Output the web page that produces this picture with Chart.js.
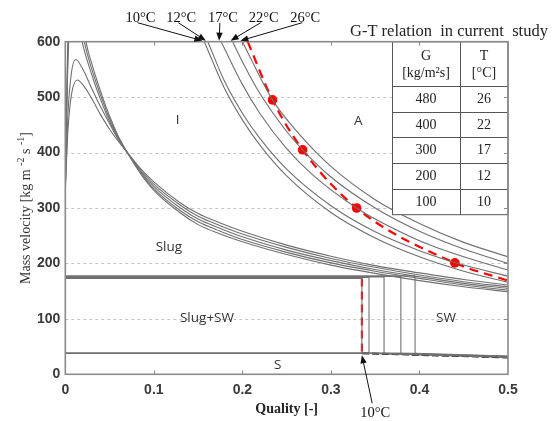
<!DOCTYPE html>
<html><head><meta charset="utf-8">
<script src="https://cdn.jsdelivr.net/npm/chart.js@4.4.1/dist/chart.umd.min.js"></script>
<style>html,body{margin:0;padding:0;background:#fff}#wrap{width:552px;height:421px;position:relative}</style>
</head><body><div id="wrap"><canvas id="c"></canvas></div>
<script>
// ---------- axis ticks ----------
const xTicks = [0, 0.1, 0.2, 0.3, 0.4, 0.5];
const yTicks = [0, 100, 200, 300, 400, 500, 600];

// ---------- annular boundary curves (I/A), one per temperature ----------
const annTemps = [10, 12, 17, 22, 26];
const annQ10 = [0.157, 0.18, 0.2, 0.22, 0.25, 0.3, 0.35, 0.4, 0.45, 0.5];
const annG10 = [600, 515, 459, 413, 358, 292, 246, 212, 186, 166];
const annQ12 = [0.161, 0.18, 0.2, 0.22, 0.25, 0.3, 0.35, 0.4, 0.45, 0.5];
const annG12 = [600, 528, 471, 425, 370, 304, 257, 223, 197, 177];
const annQ17 = [0.176, 0.2, 0.22, 0.25, 0.28, 0.329, 0.35, 0.4, 0.45, 0.5];
const annG17 = [600, 523, 470, 407, 359, 300, 280, 241, 212, 188];
const annQ22 = [0.189, 0.2, 0.22, 0.25, 0.268, 0.3, 0.35, 0.4, 0.45, 0.5];
const annG22 = [600, 564, 506, 438, 405, 356, 300, 258, 226, 200];
const annQ26 = [0.2, 0.234, 0.26, 0.3, 0.35, 0.4, 0.45, 0.5];
const annG26 = [600, 495, 441, 375, 315, 272, 238, 212];

// ---------- current study G-T curve (red dashed) ----------
const redQ = [0.206, 0.234, 0.268, 0.329, 0.44, 0.5];
const redG = [600, 495, 405, 300, 201, 169];
const dotQ = [0.234, 0.268, 0.329, 0.44];
const dotG = [495, 405, 300, 201];

// ---------- slug / intermittent boundary curves ----------
const siQA = [0, 0.003, 0.007, 0.0135, 0.02, 0.03, 0.04, 0.05, 0.06, 0.07, 0.085, 0.1, 0.13, 0.15, 0.175, 0.2, 0.25, 0.3, 0.35, 0.4, 0.45, 0.5];
const siGA = [330, 440, 505, 531, 522, 497, 468, 442, 420, 400, 371, 347, 309, 290, 273, 258, 233, 213, 196, 183, 171, 161];
const siQB = [0, 0.003, 0.007, 0.0117, 0.02, 0.03, 0.04, 0.05, 0.06, 0.07, 0.085, 0.1, 0.13, 0.15, 0.175, 0.2, 0.25, 0.3, 0.35, 0.4, 0.45, 0.5];
const siGB = [330, 470, 545, 568, 550, 515, 482, 452, 423, 400, 369, 343, 305, 285, 268, 253, 229, 209, 193, 179, 167, 158];
const siQC = [0, 0.002, 0.005, 0.01, 0.019, 0.03, 0.04, 0.05, 0.06, 0.07, 0.085, 0.1, 0.13, 0.15, 0.175, 0.2, 0.25, 0.3, 0.35, 0.4, 0.45, 0.5];
const siGC = [330, 500, 640, 680, 600, 540, 495, 456, 425, 400, 366, 339, 300, 280, 263, 248, 224, 205, 189, 176, 164, 155];
const siQD = [0, 0.002, 0.005, 0.011, 0.0215, 0.03, 0.04, 0.05, 0.06, 0.07, 0.085, 0.1, 0.13, 0.15, 0.175, 0.2, 0.25, 0.3, 0.35, 0.4, 0.45, 0.5];
const siGD = [330, 520, 660, 700, 600, 550, 503, 461, 427, 400, 364, 335, 295, 275, 258, 243, 220, 201, 186, 173, 161, 152];
const siQE = [0, 0.002, 0.005, 0.012, 0.0233, 0.03, 0.04, 0.05, 0.06, 0.07, 0.085, 0.1, 0.13, 0.15, 0.175, 0.2, 0.25, 0.3, 0.35, 0.4, 0.45, 0.5];
const siGE = [330, 540, 680, 720, 600, 560, 510, 466, 429, 400, 362, 332, 291, 270, 253, 239, 216, 197, 182, 169, 158, 149];

// ---------- slug/SW, S boundaries per temperature ----------
const swQ = [0.335, 0.343, 0.36, 0.379, 0.395];      // vertical SW boundary quality
const slugSwG = [173, 174.5, 175.5, 176.5, 177.5];   // horizontal slug / slug+SW boundary
const sG = [38, 38, 38, 38, 38];                     // stratified boundary
const sEndG = [30.5, 31, 32, 32.5, 33];              // S boundary at quality 0.5
const sEndQ = 0.5;

// ---------- table ----------
const tableG = [480, 400, 300, 200, 100];
const tableT = [26, 22, 17, 12, 10];

// ---------- region labels ----------
const regionText = ['I', 'A', 'Slug', 'Slug+SW', 'SW', 'S'];
const regionQ = [0.127, 0.331, 0.117, 0.160, 0.430, 0.240];
const regionG = [459, 457, 229, 101, 101, 17];

// ---------- annotation label positions (quality) ----------
const topLabelQ = [0.085, 0.131, 0.178, 0.224, 0.271];
const bottomLabelQ = 0.35;

const GRAY = '#707070';
const pts = (qs, gs) => qs.map((q, i) => ({x: q, y: gs[i]}));
const curve = (qs, gs, extra) => Object.assign({
  data: pts(qs, gs), showLine: true, pointRadius: 0, borderColor: GRAY, borderWidth: 1.1,
  cubicInterpolationMode: 'monotone', fill: false
}, extra || {});
const straight = (qs, gs, extra) => Object.assign({
  data: pts(qs, gs), showLine: true, pointRadius: 0, borderColor: GRAY, borderWidth: 1.1,
  tension: 0, fill: false
}, extra || {});

const datasets = [];
[[siQA, siGA], [siQB, siGB], [siQC, siGC], [siQD, siGD], [siQE, siGE]].forEach(([q, g]) => datasets.push(curve(q, g)));
const annSets = [[annQ10, annG10], [annQ12, annG12], [annQ17, annG17], [annQ22, annG22], [annQ26, annG26]];
annSets.forEach(([q, g]) => datasets.push(curve(q, g)));
swQ.forEach((xv, i) => {
  datasets.push(straight([0, xv], [slugSwG[i], slugSwG[i]]));
  datasets.push(straight([xv, xv], [slugSwG[i], sG[i]]));
  datasets.push(straight([0, xv, sEndQ], [sG[i], sG[i], sEndG[i]]));
});
datasets.push(straight([swQ[0], sEndQ], [sG[0], sEndG[0]], {borderColor: '#000', borderWidth: 2, borderDash: [7, 3]}));
datasets.push(straight([swQ[0], swQ[0]], [slugSwG[0], sG[0]], {borderColor: '#ff0000', borderWidth: 2.2, borderDash: [8, 5]}));
datasets.push(curve(redQ, redG, {borderColor: '#ff0000', borderWidth: 2.2, borderDash: [9, 6]}));
datasets.push({data: pts(dotQ, dotG), showLine: false, pointRadius: 4.8, pointBackgroundColor: '#ff0000', pointBorderColor: '#ff0000', pointBorderWidth: 0});

function arrow(ctx, x1, y1, x2, y2) {
  const a = Math.atan2(y2 - y1, x2 - x1), L = 8, W = 3.2;
  ctx.beginPath(); ctx.moveTo(x1, y1); ctx.lineTo(x2 - Math.cos(a) * L * 0.8, y2 - Math.sin(a) * L * 0.8); ctx.stroke();
  ctx.beginPath(); ctx.moveTo(x2, y2);
  ctx.lineTo(x2 - Math.cos(a) * L - Math.sin(a) * W, y2 - Math.sin(a) * L + Math.cos(a) * W);
  ctx.lineTo(x2 - Math.cos(a) * L + Math.sin(a) * W, y2 - Math.sin(a) * L - Math.cos(a) * W);
  ctx.closePath(); ctx.fill();
}

const deco = {
  id: 'deco',
  beforeDatasetsDraw(chart) {
    const {ctx, chartArea: ca, scales: {x, y}} = chart;
    ctx.save();
    ctx.strokeStyle = '#c4c4c4'; ctx.lineWidth = 1; ctx.setLineDash([3, 3]);
    yTicks.forEach(v => {
      if (v === 0 || v === 600) return;
      const py = Math.round(y.getPixelForValue(v)) + 0.5;
      ctx.beginPath(); ctx.moveTo(ca.left, py); ctx.lineTo(ca.right, py); ctx.stroke();
    });
    ctx.restore();
  },
  afterDatasetsDraw(chart) {
    const {ctx, chartArea: ca, scales: {x, y}} = chart;
    ctx.save();
    // table
    const tL = ca.right - 116, tR = ca.right, cM = tL + 68, tT = ca.top;
    const rows = [tT, tT + 44, tT + 69.8, tT + 95.6, tT + 121.4, tT + 147.2, tT + 173];
    ctx.fillStyle = '#fff'; ctx.fillRect(tL, tT, tR - tL, rows[6] - tT);
    ctx.strokeStyle = '#555'; ctx.lineWidth = 1;
    ctx.strokeRect(tL + 0.5, tT, tR - tL - 0.5, rows[6] - tT);
    ctx.beginPath(); ctx.moveTo(cM + 0.5, tT); ctx.lineTo(cM + 0.5, rows[6]); ctx.stroke();
    rows.slice(1, 6).forEach(r => { ctx.beginPath(); ctx.moveTo(tL, Math.round(r) + 0.5); ctx.lineTo(tR, Math.round(r) + 0.5); ctx.stroke(); });
    ctx.fillStyle = '#222'; ctx.textAlign = 'center'; ctx.textBaseline = 'middle';
    ctx.font = '14px "Liberation Serif", serif';
    const c1 = (tL + cM) / 2, c2 = (cM + tR) / 2;
    ctx.fillText('G', c1, tT + 15); ctx.fillText('T', c2, tT + 15);
    ctx.fillText('[kg/m\u00B2s]', c1, tT + 32); ctx.fillText('[\u00B0C]', c2, tT + 32);
    tableG.forEach((g, i) => {
      const cy = (rows[i + 1] + rows[i + 2]) / 2 + 0.5;
      ctx.fillText(String(g), c1, cy); ctx.fillText(String(tableT[i]), c2, cy);
    });
    ctx.textAlign = 'left'; ctx.textBaseline = 'alphabetic';
    ctx.font = '16.5px "Liberation Serif", serif';
    ctx.fillText('G-T relation  in current  study', tL - 42, ca.top - 6);

    // border
    ctx.strokeStyle = '#8a8a8a'; ctx.lineWidth = 1.6;
    ctx.strokeRect(ca.left, ca.top, ca.right - ca.left, ca.bottom - ca.top);
    // inward ticks
    ctx.lineWidth = 1; ctx.strokeStyle = '#8a8a8a';
    xTicks.forEach(v => {
      if (v === 0 || v === 0.5) return;
      const px = Math.round(x.getPixelForValue(v)) + 0.5;
      ctx.beginPath(); ctx.moveTo(px, ca.bottom); ctx.lineTo(px, ca.bottom - 4); ctx.stroke();
      ctx.beginPath(); ctx.moveTo(px, ca.top); ctx.lineTo(px, ca.top + 4); ctx.stroke();
    });
    yTicks.forEach(v => {
      if (v === 0 || v === 600) return;
      const py = Math.round(y.getPixelForValue(v)) + 0.5;
      ctx.beginPath(); ctx.moveTo(ca.right, py); ctx.lineTo(ca.right - 4, py); ctx.stroke();
    });

    // region labels
    ctx.fillStyle = '#333'; ctx.font = '13.5px "Open Sans", sans-serif';
    ctx.textAlign = 'center'; ctx.textBaseline = 'middle';
    regionText.forEach((t, i) => ctx.fillText(t, x.getPixelForValue(regionQ[i]), y.getPixelForValue(regionG[i])));

    // top temperature labels + arrows
    ctx.fillStyle = '#111'; ctx.strokeStyle = '#111'; ctx.lineWidth = 1;
    ctx.font = '14.5px "Liberation Serif", serif'; ctx.textBaseline = 'alphabetic';
    const tops = annSets.map(([q]) => q[0]);
    annTemps.forEach((t, i) => {
      const lx = x.getPixelForValue(topLabelQ[i]);
      ctx.fillText(t + '\u00B0C', lx, ca.top - 20);
      arrow(ctx, lx - 3, ca.top - 19, x.getPixelForValue(tops[i]) - 2, ca.top - 1);
    });
    // bottom 10°C label
    const bx = x.getPixelForValue(bottomLabelQ);
    ctx.fillText('10\u00B0C', bx, ca.bottom + 43);
    arrow(ctx, bx - 3, ca.bottom + 29, x.getPixelForValue(swQ[0]), y.getPixelForValue(sG[0]) + 2);

    // axis titles
    ctx.fillStyle = '#222';
    ctx.font = 'bold 14px "Liberation Serif", serif';
    ctx.fillText('Quality [-]', (ca.left + ca.right) / 2, ca.bottom + 39);
    ctx.save();
    ctx.translate(30, (ca.top + ca.bottom) / 2);
    ctx.rotate(-Math.PI / 2);
    ctx.fillStyle = '#333';
    const parts = [['Mass velocity [kg m ', 14, 0], ['-2', 10, -6], [' s ', 14, 0], ['-1', 10, -6], [']', 14, 0]];
    let tw = 0;
    parts.forEach(p => { ctx.font = p[1] + 'px "Liberation Serif", serif'; tw += ctx.measureText(p[0]).width; });
    let cx = -tw / 2; ctx.textAlign = 'left';
    parts.forEach(p => { ctx.font = p[1] + 'px "Liberation Serif", serif'; ctx.fillText(p[0], cx, p[2]); cx += ctx.measureText(p[0]).width; });
    ctx.restore();
    ctx.restore();
  }
};

new Chart(document.getElementById('c'), {
  type: 'scatter',
  data: {datasets},
  options: {
    responsive: true, maintainAspectRatio: false, animation: false,
    layout: {padding: {top: 41.7, right: 44, bottom: 0, left: 0}},
    plugins: {legend: {display: false}, tooltip: {enabled: false}},
    events: [],
    scales: {
      x: {
        type: 'linear', min: 0, max: 0.5,
        afterBuildTicks: s => { s.ticks = xTicks.map(v => ({value: v})); },
        afterFit: s => { s.height = 46.7; },
        grid: {display: false, drawTicks: false}, border: {display: false},
        ticks: {padding: 7, color: '#3a3a3a', font: {family: '"Liberation Sans", Arial', size: 14, weight: 'bold'},
          callback: v => String(+v.toFixed(1))}
      },
      y: {
        type: 'linear', min: 0, max: 600,
        afterBuildTicks: s => { s.ticks = yTicks.map(v => ({value: v})); },
        afterFit: s => { s.width = 65.3; },
        grid: {display: false, drawTicks: false}, border: {display: false},
        ticks: {padding: 5, color: '#3a3a3a', font: {family: '"Liberation Sans", Arial', size: 14, weight: 'bold'}}
      }
    }
  },
  plugins: [deco]
});
</script></body></html>
